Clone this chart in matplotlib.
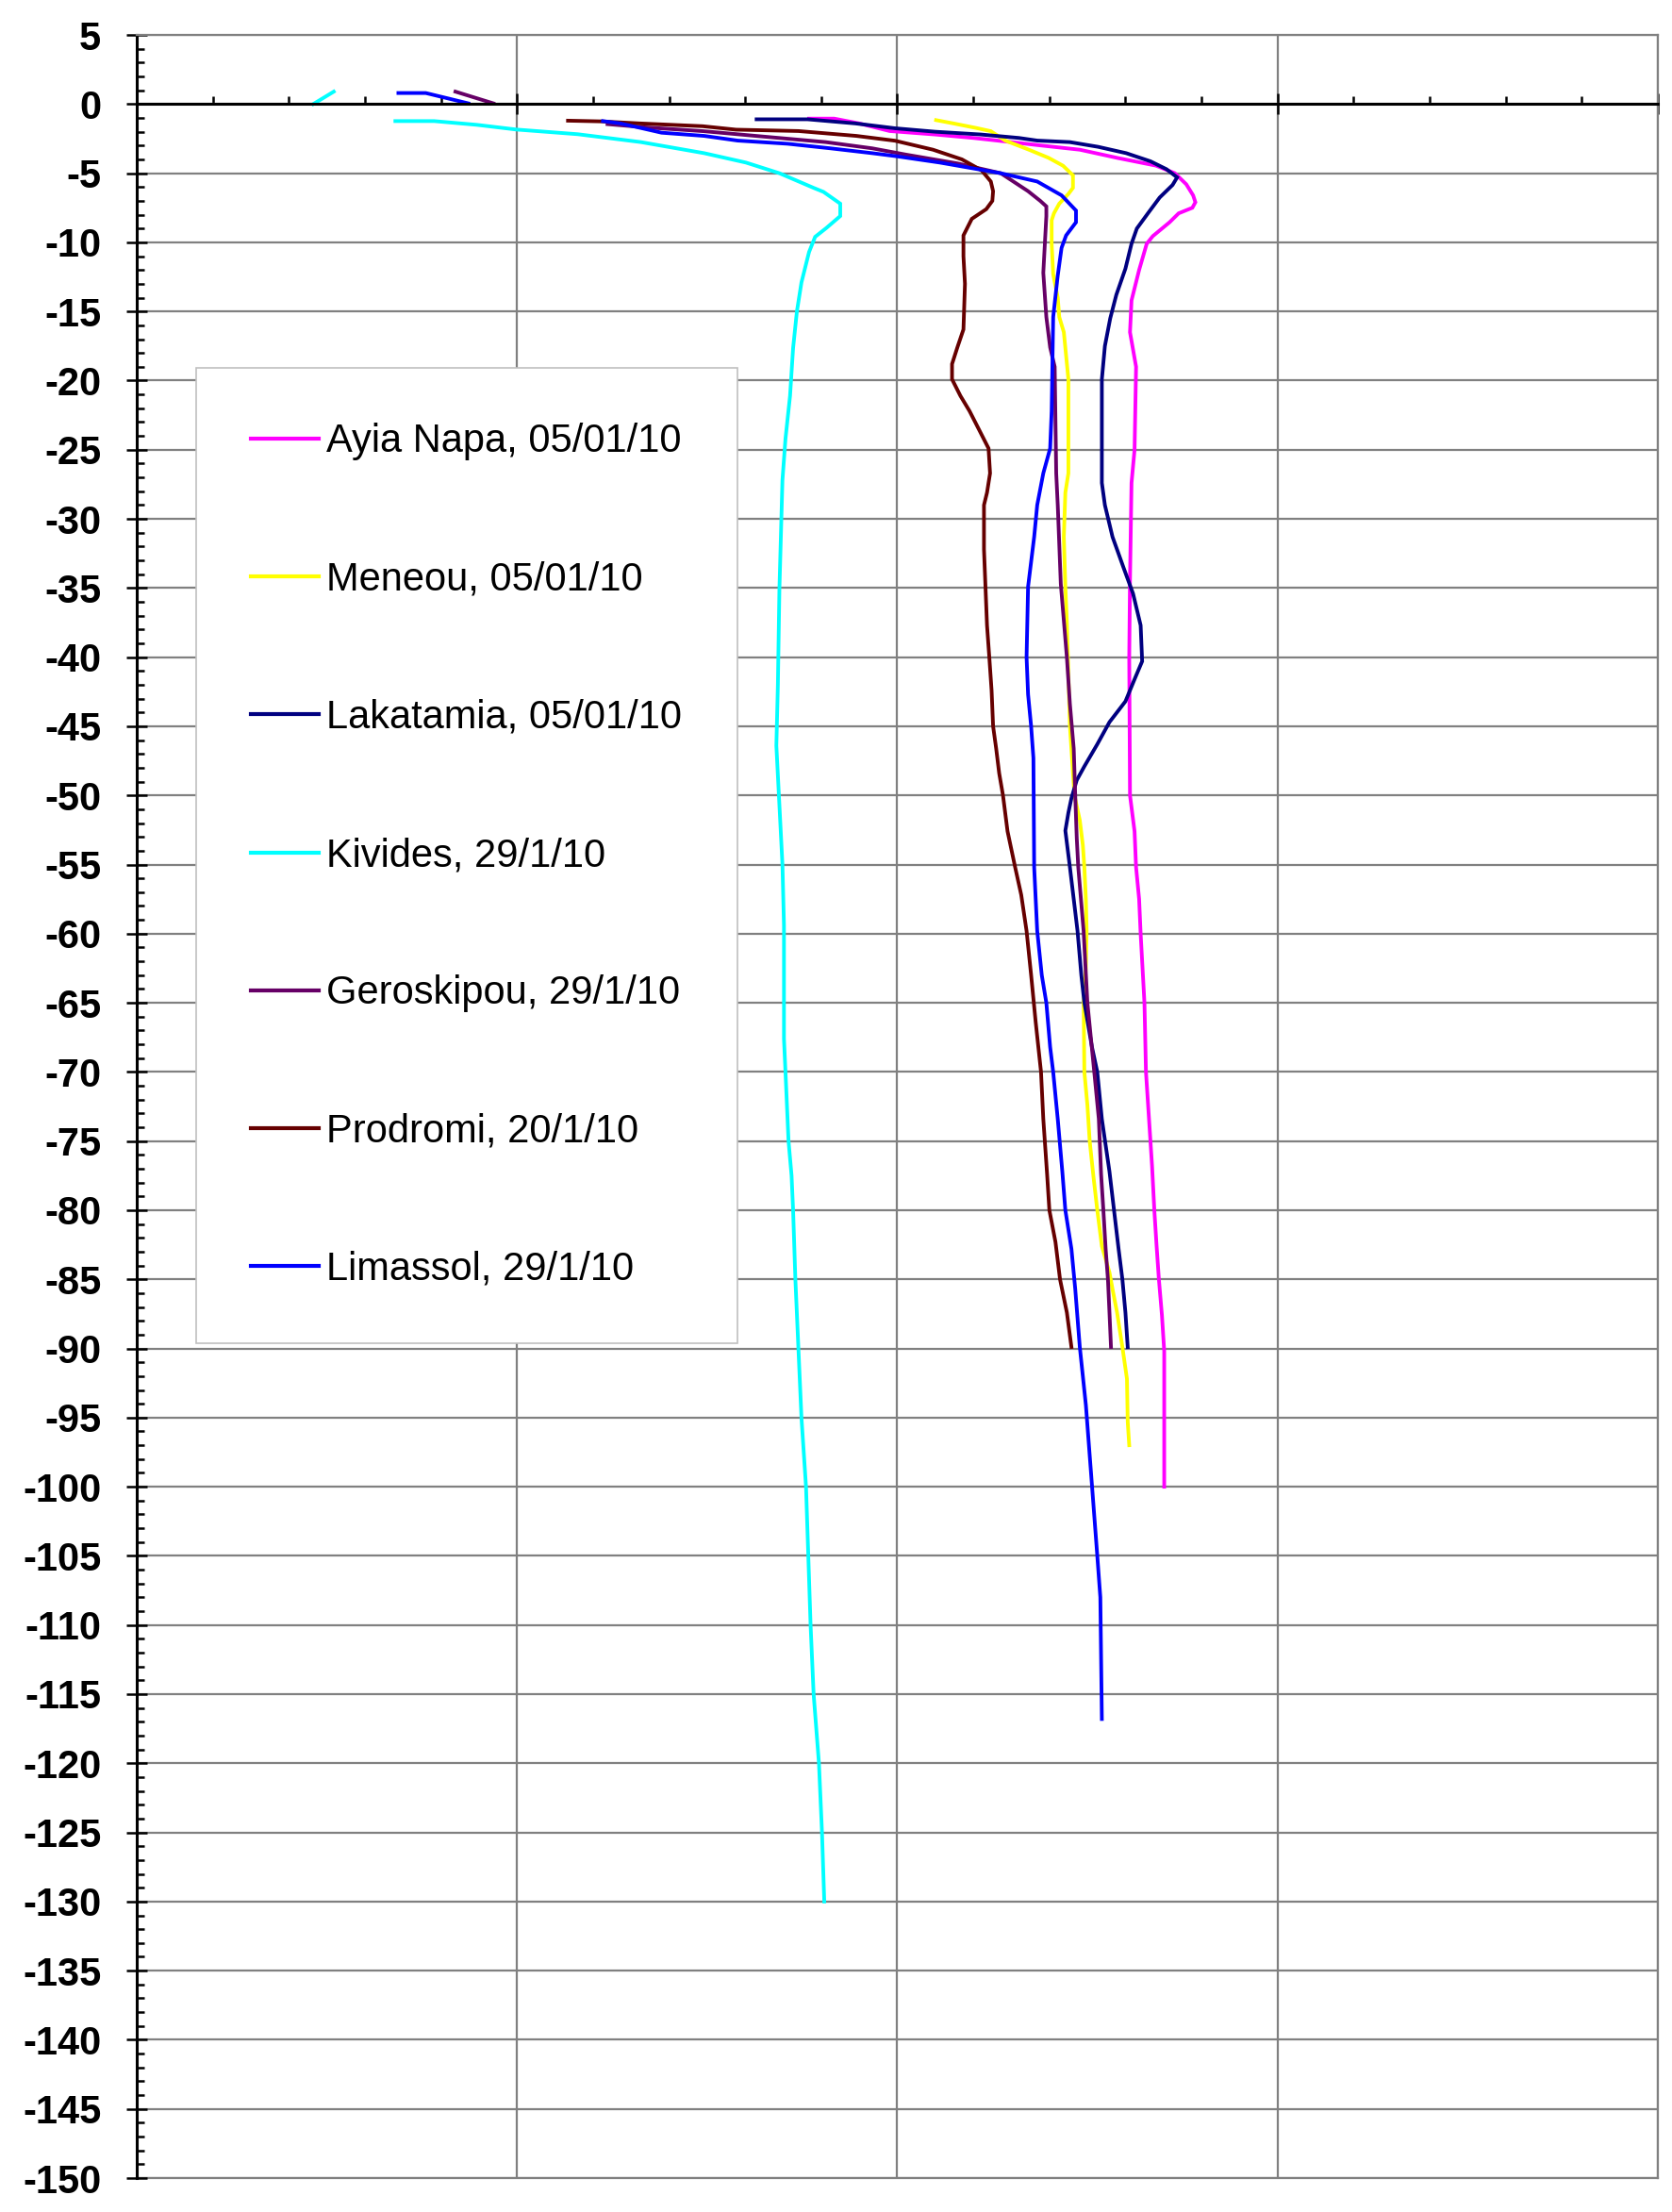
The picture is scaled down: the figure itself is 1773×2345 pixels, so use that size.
import numpy as np
import matplotlib
matplotlib.use('Agg')
import matplotlib.pyplot as plt
from matplotlib.ticker import MultipleLocator, FuncFormatter

plt.rcParams['font.family'] = ['Liberation Sans', 'DejaVu Sans']
plt.rcParams['axes.unicode_minus'] = False

nan = np.nan

# depth (m) and temperature for each borehole
ayia_depth = [-1.05, -1.05, -1.4, -1.95, -2.2, -2.45, -2.75, -3.0, -3.3, -3.9, -4.45, -5.0, -5.8, -6.6,
              -7.1, -7.5, -7.9, -8.55, -9.55, -10.1, -12.0, -14.2, -16.5, -19.0, -25.0, -27.4, -34.4,
              -40.0, -50.0, -52.6, -55.2, -57.5, -60.0, -65.0, -70.0, -73.4, -76.8, -80.0, -82.6,
              -85.0, -87.6, -90.2, -100.0]
ayia_temp = [18.84, 19.17, 19.5, 19.9, 20.5, 21.0, 21.5, 21.9, 22.4, 22.9, 23.4, 23.65, 23.8, 23.89,
             23.92, 23.88, 23.7, 23.58, 23.36, 23.28, 23.18, 23.08, 23.06, 23.14, 23.12, 23.08, 23.06,
             23.05, 23.06, 23.12, 23.14, 23.18, 23.2, 23.25, 23.27, 23.31, 23.35, 23.38, 23.41,
             23.44, 23.48, 23.51, 23.51]

meneou_depth = [-1.16, -1.39, -1.73, -1.96, -2.64, -3.32, -3.89, -4.46, -5.15, -6.06, -6.5, -7.2, -7.9,
                -8.4, -10.1, -12.3, -14.0, -15.4, -16.5, -19.9, -26.7, -28.1, -31.3, -34.9, -37.5,
                -45.0, -50.0, -51.8, -53.6, -55.2, -57.5, -59.8, -62.4, -65.0, -70.0, -72.4, -75.0,
                -77.6, -80.0, -82.6, -84.5, -85.7, -87.4, -89.9, -92.2, -95.3, -97.0]
meneou_temp = [20.51, 20.73, 21.04, 21.23, 21.42, 21.74, 21.99, 22.18, 22.31, 22.31, 22.25, 22.13, 22.06,
               22.03, 22.03, 22.05, 22.11, 22.13, 22.19, 22.25, 22.25, 22.21, 22.19, 22.21, 22.23,
               22.27, 22.33, 22.40, 22.44, 22.46, 22.48, 22.49, 22.48, 22.45, 22.46, 22.50, 22.53,
               22.58, 22.63, 22.69, 22.79, 22.83, 22.89, 22.96, 23.02, 23.03, 23.05]

lakat_depth = [-1.1, -1.1, -1.4, -1.75, -2.0, -2.2, -2.45, -2.64, -2.75, -3.09, -3.55, -4.14, -4.71,
               -5.3, -5.85, -6.76, -7.87, -9.0, -10.1, -11.9, -13.8, -15.5, -17.5, -19.9, -27.4,
               -29.0, -31.3, -33.6, -35.4, -37.7, -40.3, -41.6, -43.2, -44.7, -46.3, -47.9, -48.9,
               -50.2, -51.25, -52.55, -55.2, -57.5, -59.8, -63.0, -65.0, -68.2, -70.0, -73.4, -77.2,
               -80.0, -82.8, -85.0, -87.4, -89.9]
lakat_temp = [18.15, 18.82, 19.45, 19.97, 20.5, 21.1, 21.6, 21.84, 22.27, 22.64, 23.01, 23.33, 23.54,
              23.68, 23.62, 23.45, 23.3, 23.15, 23.08, 23.0, 22.88, 22.8, 22.73, 22.69, 22.69,
              22.73, 22.83, 22.98, 23.10, 23.2, 23.22, 23.12, 23.0, 22.79, 22.63, 22.46, 22.36,
              22.29, 22.25, 22.21, 22.27, 22.32, 22.37, 22.42, 22.46, 22.56, 22.63, 22.69, 22.79,
              22.85, 22.91, 22.96, 23.0, 23.03]

kiv_depth = [0.9, 0.0, nan, -1.23, -1.23, -1.5, -1.84, -2.18, -2.75, -3.55, -4.23, -5.0, -6.06, -6.35,
             -7.2, -8.1, -8.95, -9.6, -10.7, -12.9, -15.0, -17.65, -21.1, -24.2, -27.2, -35.1, -42.0,
             -46.4, -50.7, -55.0, -59.4, -67.6, -70.0, -75.0, -77.5, -80.0, -85.0, -90.0, -95.0,
             -100.0, -105.0, -110.0, -115.0, -120.0, -125.0, -130.0]
kiv_temp = [12.59, 12.32, nan, 13.40, 13.91, 14.47, 14.99, 15.80, 16.63, 17.46, 18.01, 18.45, 18.9, 19.03,
            19.25, 19.25, 19.07, 18.92, 18.84, 18.74, 18.68, 18.63, 18.59, 18.53, 18.49, 18.45, 18.43,
            18.41, 18.45, 18.49, 18.51, 18.51, 18.53, 18.57, 18.61, 18.63, 18.66, 18.70, 18.74,
            18.80, 18.83, 18.86, 18.90, 18.97, 19.01, 19.04]

gero_depth = [0.9, 0.05, nan, -1.45, -1.68, -1.96, -2.37, -2.75, -3.2, -3.66, -4.3, -5.0, -6.3, -7.0,
              -7.4, -8.1, -12.2, -15.4, -17.6, -19.0, -26.7, -29.0, -34.7, -40.0, -43.4, -46.6,
              -50.0, -53.1, -55.2, -59.8, -65.0, -70.0, -73.4, -77.4, -80.0, -82.8, -85.0, -87.4, -89.9]
gero_temp = [14.19, 14.69, nan, 16.19, 16.68, 17.45, 18.28, 19.06, 19.67, 20.12, 20.8, 21.36, 21.72, 21.88,
             21.96, 21.96, 21.92, 21.96, 22.01, 22.07, 22.09, 22.11, 22.15, 22.23, 22.27, 22.32,
             22.34, 22.36, 22.38, 22.45, 22.50, 22.59, 22.65, 22.68, 22.71, 22.74, 22.77, 22.79, 22.81]

prod_depth = [-1.2, -1.25, -1.4, -1.6, -1.85, -1.95, -2.3, -2.65, -3.3, -4.0, -4.8, -5.6, -6.3, -7.0,
              -7.6, -8.3, -9.5, -11.0, -13.0, -16.3, -17.6, -18.8, -19.9, -21.1, -22.2, -23.6, -24.9,
              -26.7, -28.1, -29.0, -32.2, -37.7, -40.0, -42.4, -45.0, -46.6, -48.4, -50.0, -52.6,
              -55.2, -57.2, -59.8, -63.0, -66.4, -70.0, -73.4, -77.4, -80.0, -82.3, -85.0, -87.4, -89.9]
prod_temp = [15.67, 16.1, 16.62, 17.44, 17.88, 18.70, 19.46, 19.97, 20.47, 20.85, 21.11, 21.23, 21.26, 21.25,
             21.17, 20.98, 20.87, 20.87, 20.89, 20.87, 20.79, 20.72, 20.72, 20.83, 20.95, 21.08, 21.2,
             21.22, 21.18, 21.14, 21.14, 21.18, 21.21, 21.24, 21.26, 21.30, 21.34, 21.39, 21.45,
             21.55, 21.63, 21.70, 21.76, 21.82, 21.89, 21.92, 21.97, 22.0, 22.08, 22.14, 22.23, 22.29]

lim_depth = [0.8, 0.8, 0.4, 0.05, nan, -1.23, -1.39, -1.73, -2.07, -2.3, -2.64, -2.87, -3.2, -3.55, -3.78,
             -4.23, -5.0, -5.6, -6.6, -7.7, -8.55, -9.5, -10.4, -12.4, -15.4, -22.2, -24.9, -26.7,
             -29.0, -31.3, -34.9, -40.0, -42.7, -45.0, -47.3, -55.2, -59.8, -63.0, -65.0, -68.2,
             -70.0, -73.4, -77.2, -80.0, -82.8, -85.7, -89.9, -94.1, -99.9, -105.0, -108.0, -116.8]
lim_temp = [13.44, 13.8, 14.1, 14.36, nan, 16.13, 16.35, 16.63, 16.9, 17.46, 17.9, 18.56, 19.12, 19.67, 20.0,
            20.56, 21.36, 21.84, 22.16, 22.35, 22.35, 22.22, 22.16, 22.11, 22.05, 22.03, 22.01, 21.92,
            21.84, 21.80, 21.72, 21.70, 21.72, 21.76, 21.79, 21.80, 21.84, 21.90, 21.96, 22.01,
            22.05, 22.11, 22.17, 22.21, 22.29, 22.34, 22.40, 22.48, 22.56, 22.63, 22.67, 22.69]

series = [
    ('Ayia Napa, 05/01/10', ayia_temp, ayia_depth, '#FF00FF'),
    ('Meneou, 05/01/10', meneou_temp, meneou_depth, '#FFFF00'),
    ('Lakatamia, 05/01/10', lakat_temp, lakat_depth, '#000080'),
    ('Kivides, 29/1/10', kiv_temp, kiv_depth, '#00FFFF'),
    ('Geroskipou, 29/1/10', gero_temp, gero_depth, '#660066'),
    ('Prodromi, 20/1/10', prod_temp, prod_depth, '#660000'),
    ('Limassol, 29/1/10', lim_temp, lim_depth, '#0000FF'),
]

fig = plt.figure(figsize=(17.73, 23.45), dpi=100)
ax = fig.add_axes([0.0818, 0.01535, 0.9097, 0.96885])

for name, t, d, c in series:
    ax.plot(t, d, color=c, lw=2.8, label=name, solid_joinstyle='miter')

ax.set_xlim(10, 30)
ax.set_ylim(-150, 5)

ax.xaxis.set_major_locator(MultipleLocator(5))
ax.xaxis.set_minor_locator(MultipleLocator(1))
ax.yaxis.set_major_locator(MultipleLocator(5))
ax.yaxis.set_minor_locator(MultipleLocator(1))
ax.yaxis.set_major_formatter(FuncFormatter(lambda v, p: '%d' % round(v)))

grid_col = '#808080'
ax.grid(True, which='major', color=grid_col, lw=1.6)
ax.set_axisbelow(True)

ax.spines['bottom'].set_position(('data', 0))
ax.spines['bottom'].set_color('black')
ax.spines['bottom'].set_linewidth(2.2)
ax.spines['left'].set_color('black')
ax.spines['left'].set_linewidth(2.2)
ax.spines['top'].set_color(grid_col)
ax.spines['top'].set_linewidth(1.6)
ax.spines['right'].set_color(grid_col)
ax.spines['right'].set_linewidth(1.6)
ax.axhline(-150, color=grid_col, lw=1.6, clip_on=False, zorder=0.5)

ax.tick_params(axis='x', which='major', direction='inout', length=16, width=1.8,
               labelbottom=False)
ax.tick_params(axis='x', which='minor', direction='in', length=6, width=1.8)
ax.tick_params(axis='y', which='major', direction='inout', length=16.5, width=1.8,
               pad=19, labelsize=30)
ax.tick_params(axis='y', which='minor', direction='in', length=6, width=1.8)
for lbl in ax.get_yticklabels():
    lbl.set_fontweight('bold')

leg = ax.legend(loc='upper left', bbox_to_anchor=(0.039, 0.8446), borderaxespad=0,
                fontsize=30, frameon=True, fancybox=False, framealpha=1,
                edgecolor='#c0c0c0', borderpad=1.4, labelspacing=2.55,
                handlelength=1.71, handletextpad=0.21)
leg.get_frame().set_linewidth(1.2)
for h in leg.get_lines():
    h.set_linewidth(3)

fig.savefig('out.png', dpi=100, facecolor='white')
